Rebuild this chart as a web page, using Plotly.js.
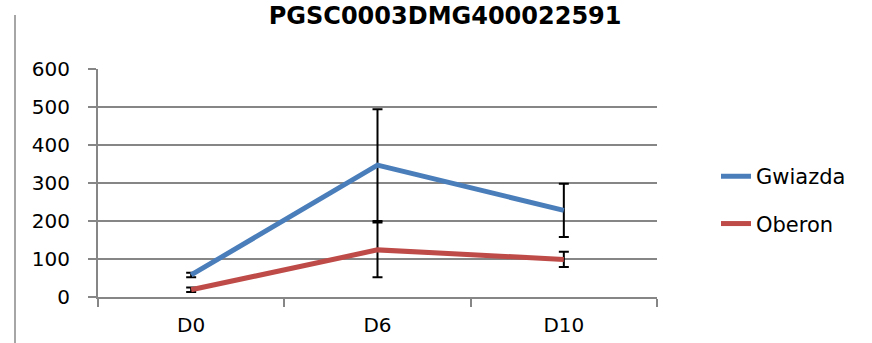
<!DOCTYPE html>
<html>
<head>
<meta charset="utf-8">
<script src="https://cdn.plot.ly/plotly-3.0.1.min.js"></script>
<style>
  html, body { margin: 0; padding: 0; background: #fff; }
  #wrap { position: relative; width: 872px; height: 343px; overflow: hidden; }
  #chart { position: absolute; left: 0; top: 0; width: 872px; height: 343px; }
  #frameLeft { position: absolute; left: 14px; top: 15px; width: 2px; height: 330px; background: #a6a6a6; z-index: 5; }
</style>
</head>
<body>
<div id="wrap">
  <div id="chart"></div>
  <div id="frameLeft"></div>
</div>
<script>
const chartTitle = "PGSC0003DMG400022591";
const categories = ["D0", "D6", "D10"];
const seriesNames = ["Gwiazda", "Oberon"];
const gwiazdaValues = [58, 347, 228];
const gwiazdaErrors = [6, 147, 70];
const oberonValues = [19, 124, 99];
const oberonErrors = [6, 72, 20];
const yTicks = [0, 100, 200, 300, 400, 500, 600];

const font = "'DejaVu Sans', sans-serif";
const colors = ["#4A7EBB", "#BE4B48"];

function makeTrace(name, y, err, color, group) {
  return {
    type: "scatter",
    mode: "lines",
    name: name,
    x: categories,
    y: y,
    legendgroup: group,
    line: { color: color, width: 5 },
    error_y: { type: "data", array: err, visible: true, color: "#000000", thickness: 2, width: 5 }
  };
}

const data = [
  makeTrace(seriesNames[0], gwiazdaValues, gwiazdaErrors, colors[0], "g1"),
  makeTrace(seriesNames[1], oberonValues, oberonErrors, colors[1], "g2")
];

const layout = {
  width: 872,
  height: 343,
  margin: { l: 98, r: 215, t: 69, b: 46 },
  paper_bgcolor: "#ffffff",
  plot_bgcolor: "#ffffff",
  font: { family: font, size: 20, color: "#000000" },
  title: {
    text: "<b>" + chartTitle + "</b>",
    font: { family: font, size: 24, color: "#000000" },
    x: 0.621, xref: "paper", xanchor: "center",
    y: 1, yref: "container", yanchor: "top", pad: { t: 7 }
  },
  xaxis: {
    type: "category",
    range: [-0.5, 2.5],
    showgrid: false,
    showline: true,
    linecolor: "#868686",
    linewidth: 2,
    ticks: "outside",
    tickson: "boundaries",
    ticklen: 8,
    tickwidth: 2,
    tickcolor: "#868686",
    tickfont: { family: font, size: 20 },
    ticklabelstandoff: 9,
    zeroline: false,
    fixedrange: true
  },
  yaxis: {
    range: [0, 600],
    tickvals: yTicks,
    ticktext: yTicks.map(String),
    showgrid: true,
    gridcolor: "#868686",
    gridwidth: 2,
    showline: true,
    linecolor: "#868686",
    linewidth: 2,
    ticks: "outside",
    ticklen: 8,
    tickwidth: 2,
    tickcolor: "#868686",
    tickfont: { family: font, size: 20 },
    ticklabelstandoff: 14,
    zeroline: false,
    fixedrange: true
  },
  showlegend: true,
  legend: {
    x: 1.1055, xanchor: "left",
    y: 0.425, yanchor: "middle",
    traceorder: "grouped",
    tracegroupgap: 17,
    font: { family: font, size: 21 },
    bgcolor: "rgba(0,0,0,0)"
  }
};

Plotly.newPlot("chart", data, layout, { displayModeBar: false, staticPlot: true });
</script>
</body>
</html>
